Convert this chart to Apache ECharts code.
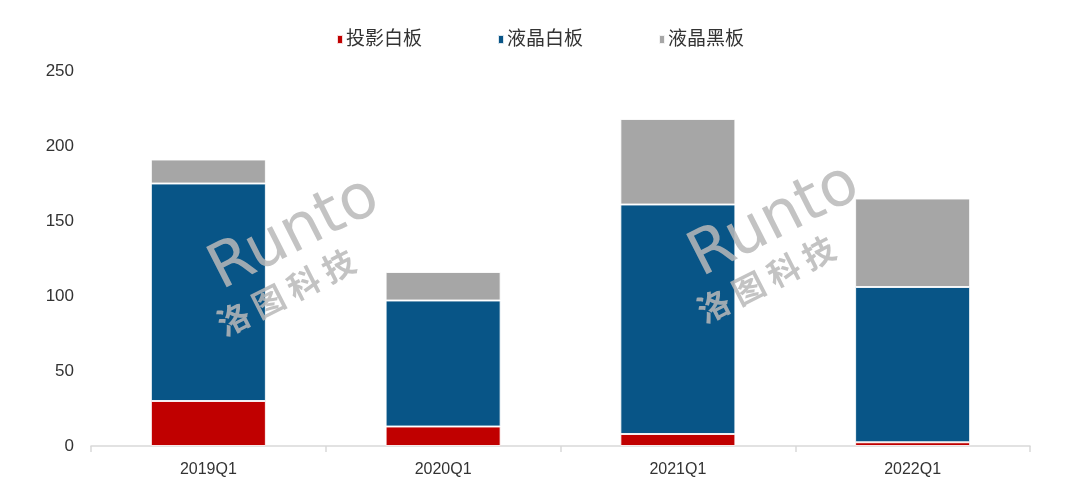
<!DOCTYPE html>
<html>
<head>
<meta charset="utf-8">
<script src="https://cdn.jsdelivr.net/npm/echarts@6/dist/echarts.min.js"></script>
<style>html,body{margin:0;padding:0;background:#fff;}#c{width:1080px;height:483px;}</style>
</head>
<body>
<div id="c"></div>
<script>
const categories = ['2019Q1', '2020Q1', '2021Q1', '2022Q1'];
const projWhite = [30, 13, 8, 2.5];
const lcdWhite = [145, 84, 153, 103.5];
const lcdBlack = [16, 19, 57, 59];
const seriesNames = ['投影白板', '液晶白板', '液晶黑板'];
const yTicks = [0, 50, 100, 150, 200, 250];

const colors = ['#C00000', '#085587', '#A6A6A6'];
const chart = echarts.init(document.getElementById('c'));
const font = '"Liberation Sans", Arial, "Noto Sans CJK SC", sans-serif';
const barStyle = { borderColor: 'rgba(255,255,255,0.85)', borderWidth: 1 };

function wm(x, y) {
  return [
    { type: 'text', x: x, y: y, rotation: 0.47, silent: true, z: 100,
      style: { text: 'Runto', fontSize: 62, fontFamily: '"DejaVu Sans", sans-serif', fontWeight: 'normal',
               fill: 'rgba(185,185,185,0.85)' } },
    { type: 'text', x: x + 12, y: y + 64, rotation: 0.47, silent: true, z: 100,
      style: { text: '洛 图 科 技', fontSize: 32, fontFamily: '"Noto Sans CJK SC", sans-serif', fontWeight: 'bold',
               fill: 'rgba(185,185,185,0.85)' } }
  ];
}

chart.setOption({
  animation: false,
  color: colors,
  textStyle: { fontFamily: font },
  legend: {
    top: 25, left: 'center', itemWidth: 6, itemHeight: 9, itemGap: 75,
    icon: 'rect',
    textStyle: { fontSize: 19, color: '#333', padding: [0, 0, 0, -2] },
    data: seriesNames
  },
  grid: { left: 91, right: 50, top: 71, bottom: 37, containLabel: false },
  xAxis: {
    type: 'category', data: categories,
    axisLine: { lineStyle: { color: '#d9d9d9', width: 1.5 } },
    axisTick: { show: true, length: 6, lineStyle: { color: '#d9d9d9', width: 1.5 } },
    axisLabel: { fontSize: 16, color: '#333', margin: 16 }
  },
  yAxis: {
    type: 'value', min: 0, max: 250, interval: 50,
    splitLine: { show: false },
    axisLine: { show: false }, axisTick: { show: false },
    axisLabel: { fontSize: 17, color: '#333', margin: 17,
      formatter: v => yTicks.includes(v) ? String(v) : '' }
  },
  series: [
    { name: seriesNames[0], type: 'bar', stack: 'a', data: projWhite, barWidth: '49%', itemStyle: barStyle },
    { name: seriesNames[1], type: 'bar', stack: 'a', data: lcdWhite, barWidth: '49%', itemStyle: barStyle },
    { name: seriesNames[2], type: 'bar', stack: 'a', data: lcdBlack, barWidth: '49%', itemStyle: barStyle }
  ],
  graphic: [].concat(wm(200, 248), wm(680, 235))
});
</script>
</body>
</html>
